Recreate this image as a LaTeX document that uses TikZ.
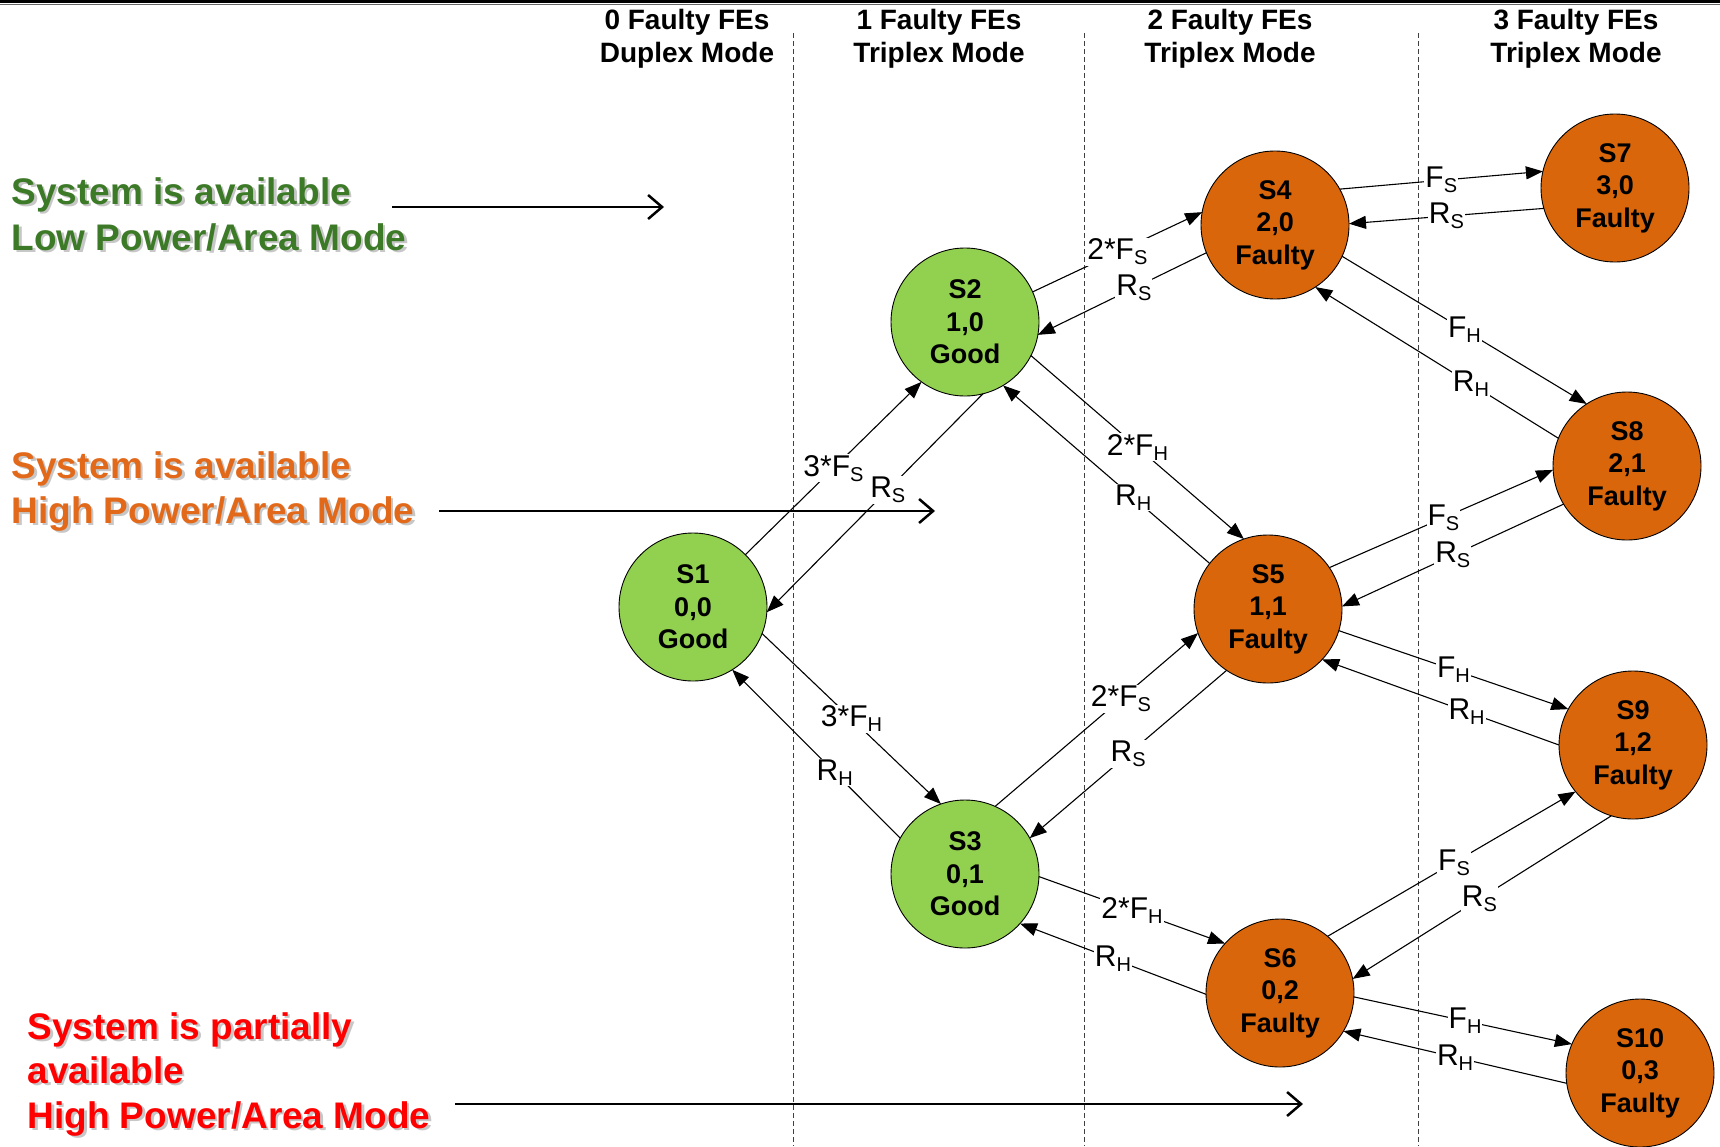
\documentclass[tikz,border=0pt]{standalone}
\usepackage{fontspec}
\setmainfont{Liberation Sans}
\usetikzlibrary{arrows.meta}

\definecolor{nodegreen}{HTML}{92D050}
\definecolor{nodeorange}{HTML}{D9660B}
\definecolor{txtgreen}{HTML}{3C7A28}
\definecolor{txtorange}{HTML}{E2691A}
\definecolor{txtred}{HTML}{FF0000}

% lowered index letter for the rate labels
\newcommand\lsub[1]{\raisebox{-5pt}{\fontsize{20}{20}\selectfont #1}}

% a left-hand caption line with a soft drop shadow
\newcommand\shadowline[5]{%
  \node[lefttext, text=black, opacity=0.22] (#1-sh) at (#3+2.5,#4+2.5) {#5};
  \node[lefttext, text=#2] (#1) at (#3,#4) {#5};
}

\begin{document}
\begin{tikzpicture}[x=1pt,y=-1pt,
  state/.style={circle, draw=black, line width=0.9pt, minimum size=148pt,
    inner sep=0pt, outer sep=0pt, align=center,
    font=\fontsize{27}{32.5}\selectfont\bfseries},
  good/.style={state, fill=nodegreen},
  faulty/.style={state, fill=nodeorange},
  trans/.style={line width=1.1pt, -{Triangle[length=17pt,width=13pt]}},
  rate/.style={fill=white, inner sep=1pt, font=\fontsize{30}{30}\selectfont},
  head/.style={anchor=base, font=\fontsize{28}{28}\selectfont\bfseries},
  lefttext/.style={anchor=base west, font=\fontsize{37}{37}\selectfont\bfseries},
  bigarrow/.style={line width=2.5pt, -{Straight Barb[length=14pt,width=24pt]}},
  column/.style={line width=0.8pt, black!75, dash pattern=on 5pt off 3pt}
]
\useasboundingbox (0,0) rectangle (1720,1146);
\fill[white] (0,0) rectangle (1720,1146);

% double rule along the top
\draw[line width=2.6pt] (0,1.3) -- (1720,1.3);
\draw[line width=1pt, black!60] (0,4.8) -- (1720,4.8);

% column separators
\draw[column] (793,33) -- (793,1146);
\draw[column] (1084,33) -- (1084,1146);
\draw[column] (1418,33) -- (1418,1146);

% column headings
\node[head] (h0a) at (687,29) {0 Faulty FEs};
\node[head] (h0b) at (687,62) {Duplex Mode};
\node[head] (h1a) at (939,29) {1 Faulty FEs};
\node[head] (h1b) at (939,62) {Triplex Mode};
\node[head] (h2a) at (1230,29) {2 Faulty FEs};
\node[head] (h2b) at (1230,62) {Triplex Mode};
\node[head] (h3a) at (1576,29) {3 Faulty FEs};
\node[head] (h3b) at (1576,62) {Triplex Mode};

% states
\node[good]   (s1)  at (693,607)  {S1\\0,0\\Good};
\node[good]   (s2)  at (965,322)  {S2\\1,0\\Good};
\node[good]   (s3)  at (965,874)  {S3\\0,1\\Good};
\node[faulty] (s4)  at (1275,225) {S4\\2,0\\Faulty};
\node[faulty] (s5)  at (1268,609) {S5\\1,1\\Faulty};
\node[faulty] (s6)  at (1280,993) {S6\\0,2\\Faulty};
\node[faulty] (s7)  at (1615,188) {S7\\3,0\\Faulty};
\node[faulty] (s8)  at (1627,466) {S8\\2,1\\Faulty};
\node[faulty] (s9)  at (1633,745) {S9\\1,2\\Faulty};
\node[faulty] (s10) at (1640,1073) {S10\\0,3\\Faulty};

% transitions
\draw[trans] (s1.45)  -- node[rate,pos=0.5]  (r1)  {3*F\lsub{S}} (s2.234);
\draw[trans] (s2.284) -- node[rate,pos=0.44] (r2)  {R\lsub{S}}   (s1.356);
\draw[trans] (s1.339) -- node[rate,pos=0.5]  (r3)  {3*F\lsub{H}} (s3.109);
\draw[trans] (s3.151) -- node[rate,pos=0.39] (r4)  {R\lsub{H}}   (s1.302);
\draw[trans] (s2.24)  -- node[rate,pos=0.5]  (r5)  {2*F\lsub{S}} (s4.170);
\draw[trans] (s4.202) -- node[rate,pos=0.43] (r6)  {R\lsub{S}}   (s2.350);
\draw[trans] (s2.333) -- node[rate,pos=0.5]  (r7)  {2*F\lsub{H}} (s5.109);
\draw[trans] (s5.142) -- node[rate,pos=0.37] (r8)  {R\lsub{H}}   (s2.301);
\draw[trans] (s3.66)  -- node[rate,pos=0.62] (r9)  {2*F\lsub{S}} (s5.199);
\draw[trans] (s5.236) -- node[rate,pos=0.5]  (r10) {R\lsub{S}}   (s3.29);
\draw[trans] (s3.358) -- node[rate,pos=0.5]  (r11) {2*F\lsub{H}} (s6.138);
\draw[trans] (s6.181) -- node[rate,pos=0.5]  (r12) {R\lsub{H}}   (s3.318);
\draw[trans] (s4.29)  -- node[rate,pos=0.5]  (r13) {F\lsub{S}}   (s7.167);
\draw[trans] (s7.196) -- node[rate,pos=0.5]  (r14) {R\lsub{S}}   (s4.1);
\draw[trans] (s4.335) -- node[rate,pos=0.5]  (r15) {F\lsub{H}}   (s8.123);
\draw[trans] (s8.158) -- node[rate,pos=0.36] (r16) {R\lsub{H}}   (s4.303);
\draw[trans] (s5.34)  -- node[rate,pos=0.51] (r17) {F\lsub{S}}   (s8.183);
\draw[trans] (s8.211) -- node[rate,pos=0.5]  (r18) {R\lsub{S}}   (s5.2);
\draw[trans] (s5.343) -- node[rate,pos=0.5]  (r19) {F\lsub{H}}   (s9.151);
\draw[trans] (s9.180) -- node[rate,pos=0.39] (r20) {R\lsub{H}}   (s5.317);
\draw[trans] (s6.50)  -- node[rate,pos=0.51] (r21) {F\lsub{S}}   (s9.219);
\draw[trans] (s9.253) -- node[rate,pos=0.51] (r22) {R\lsub{S}}   (s6.11);
\draw[trans] (s6.357) -- node[rate,pos=0.51] (r23) {F\lsub{H}}   (s10.157);
\draw[trans] (s10.188) -- node[rate,pos=0.5] (r24) {R\lsub{H}}   (s6.329);

% availability captions
\shadowline{capA1}{txtgreen}{8}{204}{System is available}
\shadowline{capA2}{txtgreen}{8}{250}{Low Power/Area Mode}
\shadowline{capB1}{txtorange}{8}{478}{System is available}
\shadowline{capB2}{txtorange}{8}{523}{High Power/Area Mode}
\shadowline{capC1}{txtred}{24}{1039}{System is partially}
\shadowline{capC2}{txtred}{24}{1083}{available}
\shadowline{capC3}{txtred}{24}{1128}{High Power/Area Mode}

% pointers from the captions
\coordinate (pa0) at (392,207);
\coordinate (pa1) at (664,207);
\coordinate (pb0) at (439,511);
\coordinate (pb1) at (935,511);
\coordinate (pc0) at (455,1104);
\coordinate (pc1) at (1303,1104);
\draw[bigarrow] (pa0) -- (pa1);
\draw[bigarrow] (pb0) -- (pb1);
\draw[bigarrow] (pc0) -- (pc1);
\end{tikzpicture}
\end{document}
